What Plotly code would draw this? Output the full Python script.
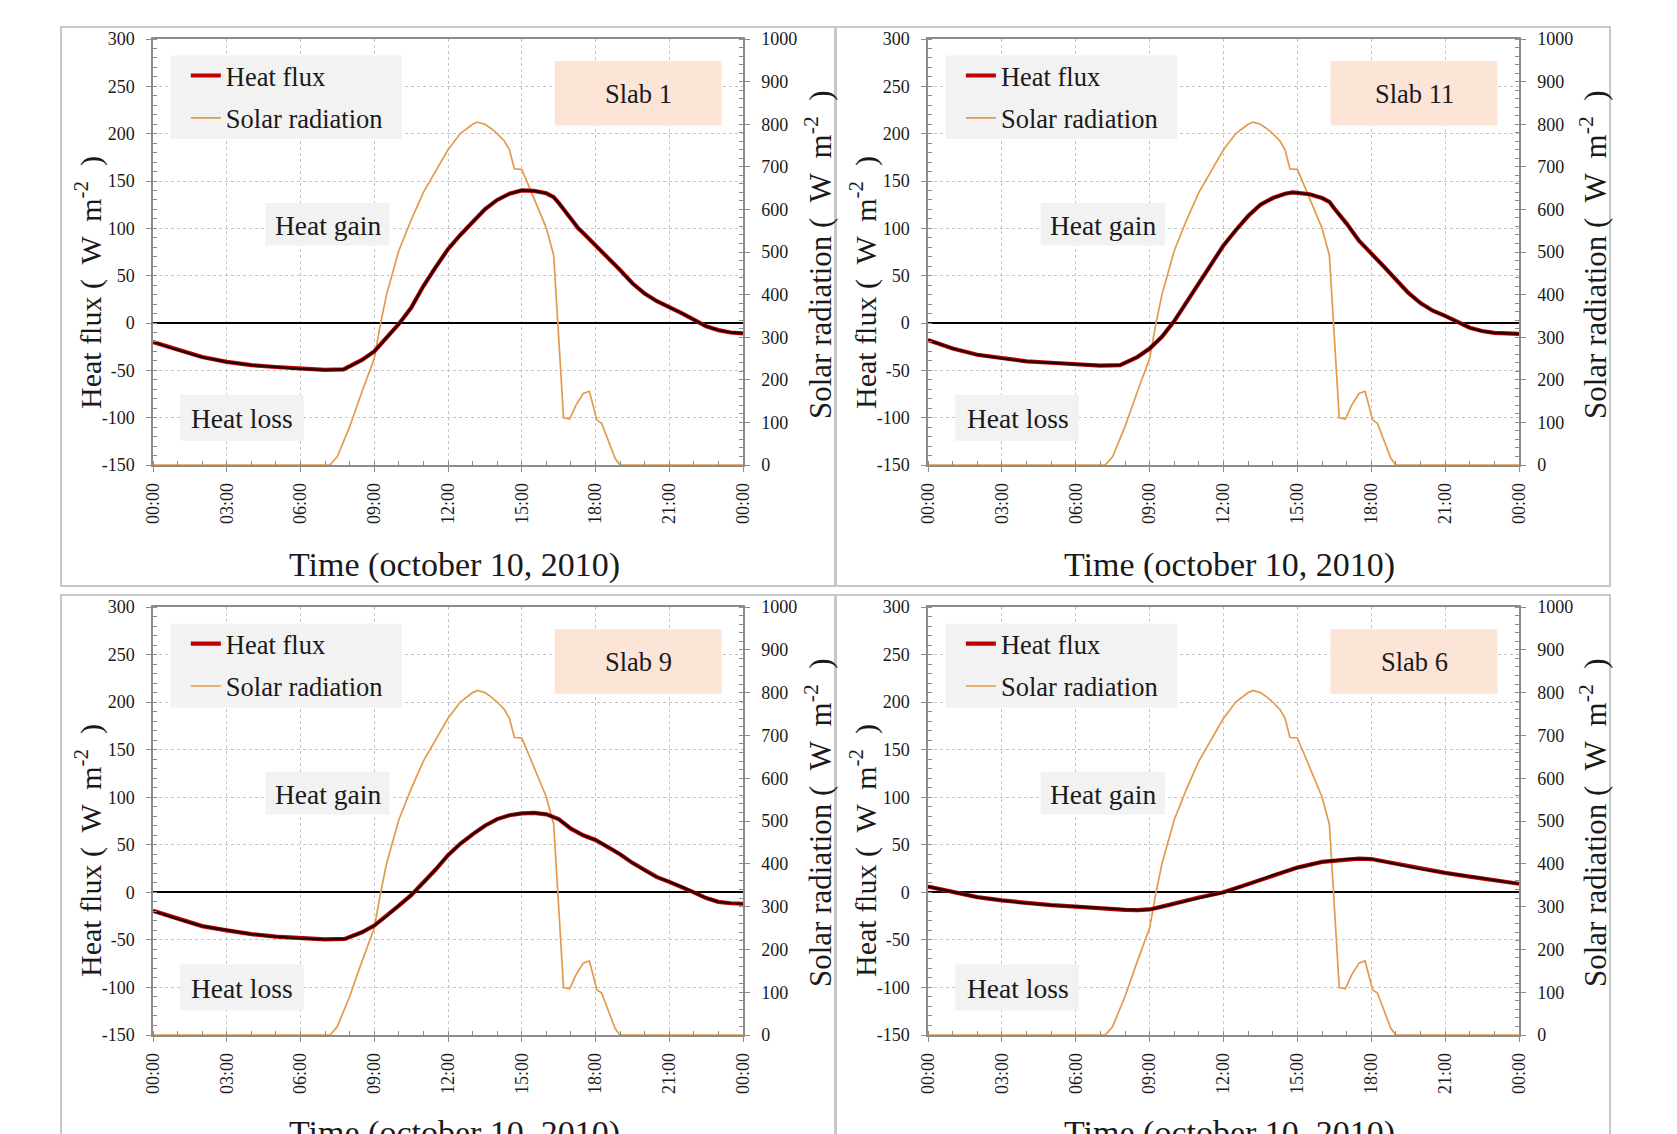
import plotly.graph_objects as go
from datetime import datetime, timedelta

W, H = 1677, 1134
FONT = "Liberation Serif"

PANEL_NAMES = ["Slab 1", "Slab 11", "Slab 9", "Slab 6"]
X_TITLE = "Time (october 10, 2010)"
Y_LEFT_TITLE = "Heat flux (  W  m<sup>-2</sup>  )"
Y_RIGHT_TITLE = "Solar radiation (  W  m<sup>-2</sup>  )"
LEGEND_NAMES = ["Heat flux", "Solar radiation"]
GAIN_LABEL = "Heat gain"
LOSS_LABEL = "Heat loss"

FLUX_TICKS = [-150, -100, -50, 0, 50, 100, 150, 200, 250, 300]
FLUX_TICK_TEXT = ["-150", "-100", "-50", "0", "50", "100", "150", "200", "250", "300"]
SOLAR_TICKS = [0, 100, 200, 300, 400, 500, 600, 700, 800, 900, 1000]

# Solar radiation (W m-2), same for all panels
SOLAR_HOURS = [0, 7.2, 7.5, 8, 8.5, 9, 9.25, 9.5, 10, 10.5, 11, 11.5, 12, 12.5, 13, 13.2, 13.5,
               13.75, 14, 14.3, 14.5, 14.7, 15, 15.25, 15.5, 16, 16.3, 16.7, 16.95, 17.2, 17.5,
               17.75, 17.9, 18.05, 18.25, 18.5, 18.8, 19, 24]
SOLAR = [0, 0, 20, 90, 172, 250, 330, 400, 503, 575, 640, 690, 740, 778, 800, 805, 800,
         790, 778, 760, 740, 695, 694, 660, 625, 556, 492, 111, 108, 140, 168,
         173, 140, 106, 98, 62, 15, 0, 0]

# Heat flux (W m-2)
SLAB1_HOURS = [0, 1, 2, 3, 4, 5, 6, 7, 7.75, 8, 8.5, 9, 9.5, 10, 10.5, 11, 11.5, 12, 12.5, 13,
               13.5, 14, 14.5, 15, 15.5, 16, 16.3, 16.5, 17, 17.3, 17.5, 18, 18.5, 19, 19.5, 20,
               20.5, 21, 21.5, 22, 22.5, 23, 23.5, 24]
SLAB1_FLUX = [-20, -28.5, -36, -41, -44.5, -46.5, -48.5, -49.5, -49, -46, -39, -30, -16, -1, 16,
              39, 59, 78, 93, 107, 120, 130, 136.5, 140, 139.5, 137, 133, 127, 110, 100, 95, 82,
              70, 56, 42, 31, 23, 17, 10.5, 3.5, -3.5, -7.5, -10, -11]

SLAB11_HOURS = [0, 1, 2, 3, 4, 5, 6, 7, 7.8, 8, 8.5, 9, 9.5, 10, 10.5, 11, 11.5, 12, 12.5, 13,
                13.5, 14, 14.5, 14.8, 15, 15.5, 16, 16.3, 16.5, 17, 17.5, 18, 18.5, 19, 19.5,
                20, 20.5, 21, 21.5, 22, 22.5, 23, 24]
SLAB11_FLUX = [-18, -27, -33.5, -37.5, -40.5, -42, -44, -45, -44.5, -42, -36, -27, -14.5, 2, 22,
               43, 63, 82, 98, 113, 125, 132, 136.5, 138, 137.5, 136, 132, 128, 121, 105, 87,
               74, 60, 46, 32, 21, 13, 7.5, 1, -5, -8.5, -10.5, -11.5]

SLAB9_HOURS = [0, 1, 2, 3, 4, 5, 6, 7, 7.8, 8, 8.5, 9, 9.5, 10, 10.5, 11, 11.5, 12, 12.5, 13,
               13.5, 14, 14.5, 15, 15.5, 16, 16.5, 17, 17.5, 18, 18.5, 19, 19.5, 20, 20.5, 21,
               21.5, 22, 22.5, 23, 23.5, 24]
SLAB9_FLUX = [-19.5, -28, -35.5, -40, -44, -46.5, -48.5, -49.5, -49, -47, -42, -35, -25, -14, -3,
              10, 24, 39, 51, 61, 70, 77, 81, 83, 83.5, 82, 77, 67, 60, 55, 48, 40, 31, 23, 16,
              11, 6, 0, -6, -10, -11.5, -12]

SLAB6_HOURS = [0, 1, 2, 3, 4, 5, 6, 7, 8, 8.5, 9, 9.5, 10, 11, 12, 13, 14, 15, 16, 17, 17.5, 18,
               19, 20, 21, 22, 23, 24]
SLAB6_FLUX = [6, 0.5, -5, -8.5, -11.5, -13.5, -15, -17, -18.5, -18.8, -18, -15, -11.5, -5.5, 0,
              8.5, 18, 26, 32, 35, 35.5, 35, 30, 24.5, 20.5, 16.5, 12.5, 9]

FLUX_HOURS = [SLAB1_HOURS, SLAB11_HOURS, SLAB9_HOURS, SLAB6_HOURS]
FLUX = [SLAB1_FLUX, SLAB11_FLUX, SLAB9_FLUX, SLAB6_FLUX]

BASE = datetime(2010, 10, 10)


def to_time(hours):
    return [BASE + timedelta(hours=h) for h in hours]


# layout geometry (pixels)
PLOT_X = [(153, 743), (928, 1519)]
PLOT_Y = [(39, 465), (607, 1035)]

RED = "#c00000"
DARK = "#1e0606"
ORANGE = "#e39a4c"
AXC = "#8c8c8c"
TXT = "#1a1a1a"

fig = go.Figure()
shapes = []
annotations = []
layout = {}


def px(v):
    return v / W


def py(v):
    return 1 - v / H


for i in range(4):
    col, row = i % 2, i // 2
    x0, x1 = PLOT_X[col]
    y0, y1 = PLOT_Y[row]
    n = i + 1
    xa = "x" if n == 1 else f"x{n}"
    ys = "y" if n == 1 else f"y{n}"          # solar (base, right side)
    yh = f"y{n + 4}"                         # heat flux (overlay, left side)
    lg = "legend" if n == 1 else f"legend{n}"

    t_solar = to_time(SOLAR_HOURS)
    t_flux = to_time(FLUX_HOURS[i])

    fig.add_trace(go.Scatter(x=t_solar, y=SOLAR, mode="lines", name=LEGEND_NAMES[1],
                             line=dict(color=ORANGE, width=1.7), xaxis=xa, yaxis=ys,
                             legend=lg, legendrank=2, legendgroup=f"s{n}"))
    fig.add_trace(go.Scatter(x=t_flux, y=FLUX[i], mode="lines", name=LEGEND_NAMES[0],
                             line=dict(color=RED, width=4.2), xaxis=xa, yaxis=yh,
                             legend=lg, legendrank=1, legendgroup=f"h{n}"))
    fig.add_trace(go.Scatter(x=t_flux, y=FLUX[i], mode="lines", name=LEGEND_NAMES[0],
                             line=dict(color=DARK, width=2.2), xaxis=xa, yaxis=yh,
                             showlegend=False, legendgroup=f"h{n}"))

    tickfont = dict(family=FONT, size=18, color=TXT)
    layout["xaxis" if n == 1 else f"xaxis{n}"] = dict(
        domain=[px(x0), px(x1)], anchor=ys,
        range=[BASE, BASE + timedelta(hours=24)],
        type="date", tick0=BASE, dtick=3 * 3600000, tickformat="%H:%M",
        tickangle=-90, tickfont=tickfont, ticklabelstandoff=4,
        showgrid=True, gridcolor="#c4c4c4", griddash="dot", gridwidth=1,
        showline=True, linecolor=AXC, linewidth=1.5, mirror=True,
        ticks="outside", ticklen=5, tickcolor=AXC,
        minor=dict(dtick=3600000, tick0=BASE, ticks="inside", ticklen=4, tickcolor=AXC,
                   showgrid=False),
        zeroline=False, fixedrange=True, automargin=False)
    layout["yaxis" if n == 1 else f"yaxis{n}"] = dict(
        domain=[py(y1), py(y0)], anchor=xa, side="right",
        range=[0, 1000], tickmode="array", tickvals=SOLAR_TICKS,
        ticktext=[str(v) for v in SOLAR_TICKS], tickfont=tickfont,
        showgrid=False, zeroline=False,
        showline=True, linecolor=AXC, linewidth=1.5,
        ticks="outside", ticklen=5, tickcolor=AXC, ticklabelstandoff=8,
        minor=dict(dtick=20, tick0=0, ticks="inside", ticklen=4, tickcolor=AXC),
        fixedrange=True, automargin=False)
    layout[f"yaxis{n + 4}"] = dict(
        overlaying=ys, anchor=xa, side="left",
        range=[-150, 300], tickmode="array", tickvals=FLUX_TICKS, ticktext=FLUX_TICK_TEXT,
        tickfont=tickfont,
        showgrid=True, gridcolor="#c4c4c4", griddash="dot", gridwidth=1,
        zeroline=True, zerolinecolor="#000000", zerolinewidth=2,
        showline=True, linecolor=AXC, linewidth=1.5,
        ticks="outside", ticklen=5, tickcolor=AXC, ticklabelstandoff=8,
        minor=dict(dtick=10, tick0=0, ticks="inside", ticklen=4, tickcolor=AXC),
        fixedrange=True, automargin=False)

    pw, ph = x1 - x0, y1 - y0

    # legend
    layout[lg] = dict(x=px(x0 + 0.0675 * pw - 7), y=py(y0 + 0.030 * ph), xanchor="left",
                      yanchor="top", bgcolor="rgba(0,0,0,0)", borderwidth=0,
                      font=dict(family=FONT, size=26.5, color=TXT),
                      traceorder="grouped", tracegroupgap=5, itemwidth=30)

    xd, yd = f"{xa} domain", f"{yh} domain"

    def box(bx0, bx1, by0, by1, color):
        shapes.append(dict(type="rect", xref=xd, yref=yd, x0=bx0, x1=bx1,
                           y0=1 - by1, y1=1 - by0, fillcolor=color,
                           line=dict(width=0), layer="above"))

    def label(text, cx, cy, size=26.5):
        annotations.append(dict(text=text, xref=xd, yref=yd, x=cx, y=1 - cy,
                                showarrow=False, xanchor="center", yanchor="middle",
                                font=dict(family=FONT, size=size, color=TXT)))

    box(0.030, 0.4216, 0.039, 0.235, "#f2f2f2")
    box(0.681, 0.9636, 0.0517, 0.2033, "#fce4d6")
    label(PANEL_NAMES[i], 0.8225, 0.129)
    box(0.1905, 0.4009, 0.385, 0.485, "#f2f2f2")
    label(GAIN_LABEL, 0.296, 0.437, 27.5)
    box(0.0459, 0.2554, 0.835, 0.943, "#f2f2f2")
    label(LOSS_LABEL, 0.1515, 0.891, 27.5)

    # axis titles
    dx = 775 * col
    dy = 568 * row
    annotations.append(dict(text=Y_LEFT_TITLE, xref="paper", yref="paper",
                            x=px(88 + dx), y=py(283 + dy), textangle=-90, showarrow=False,
                            xanchor="center", yanchor="middle",
                            font=dict(family=FONT, size=30, color=TXT)))
    annotations.append(dict(text=Y_RIGHT_TITLE, xref="paper", yref="paper",
                            x=px(818 + dx), y=py(255 + dy), textangle=-90, showarrow=False,
                            xanchor="center", yanchor="middle",
                            font=dict(family=FONT, size=31, color=TXT)))
    annotations.append(dict(text=X_TITLE, xref="paper", yref="paper",
                            x=px((x0 + x1) / 2 + 6), y=py(565 + dy), showarrow=False,
                            xanchor="center", yanchor="middle",
                            font=dict(family=FONT, size=34, color=TXT)))

# panel frames
FRAMES = [(61, 835, 27, 586), (836, 1610, 27, 586), (61, 835, 595, 1160), (836, 1610, 595, 1160)]
for fx0, fx1, fy0, fy1 in FRAMES:
    shapes.append(dict(type="rect", xref="paper", yref="paper", x0=px(fx0), x1=px(fx1),
                       y0=py(fy1), y1=py(fy0), line=dict(color="#c8c8c8", width=2),
                       fillcolor="rgba(0,0,0,0)", layer="below"))

fig.update_layout(width=W, height=H, margin=dict(l=0, r=0, t=0, b=0, pad=0),
                  paper_bgcolor="white", plot_bgcolor="white", showlegend=True,
                  shapes=shapes, annotations=annotations, hovermode=False, **layout)

fig.write_html("out.html", config={"displayModeBar": False},
               post_script="document.body.style.margin='0';document.body.style.overflow='hidden';")
